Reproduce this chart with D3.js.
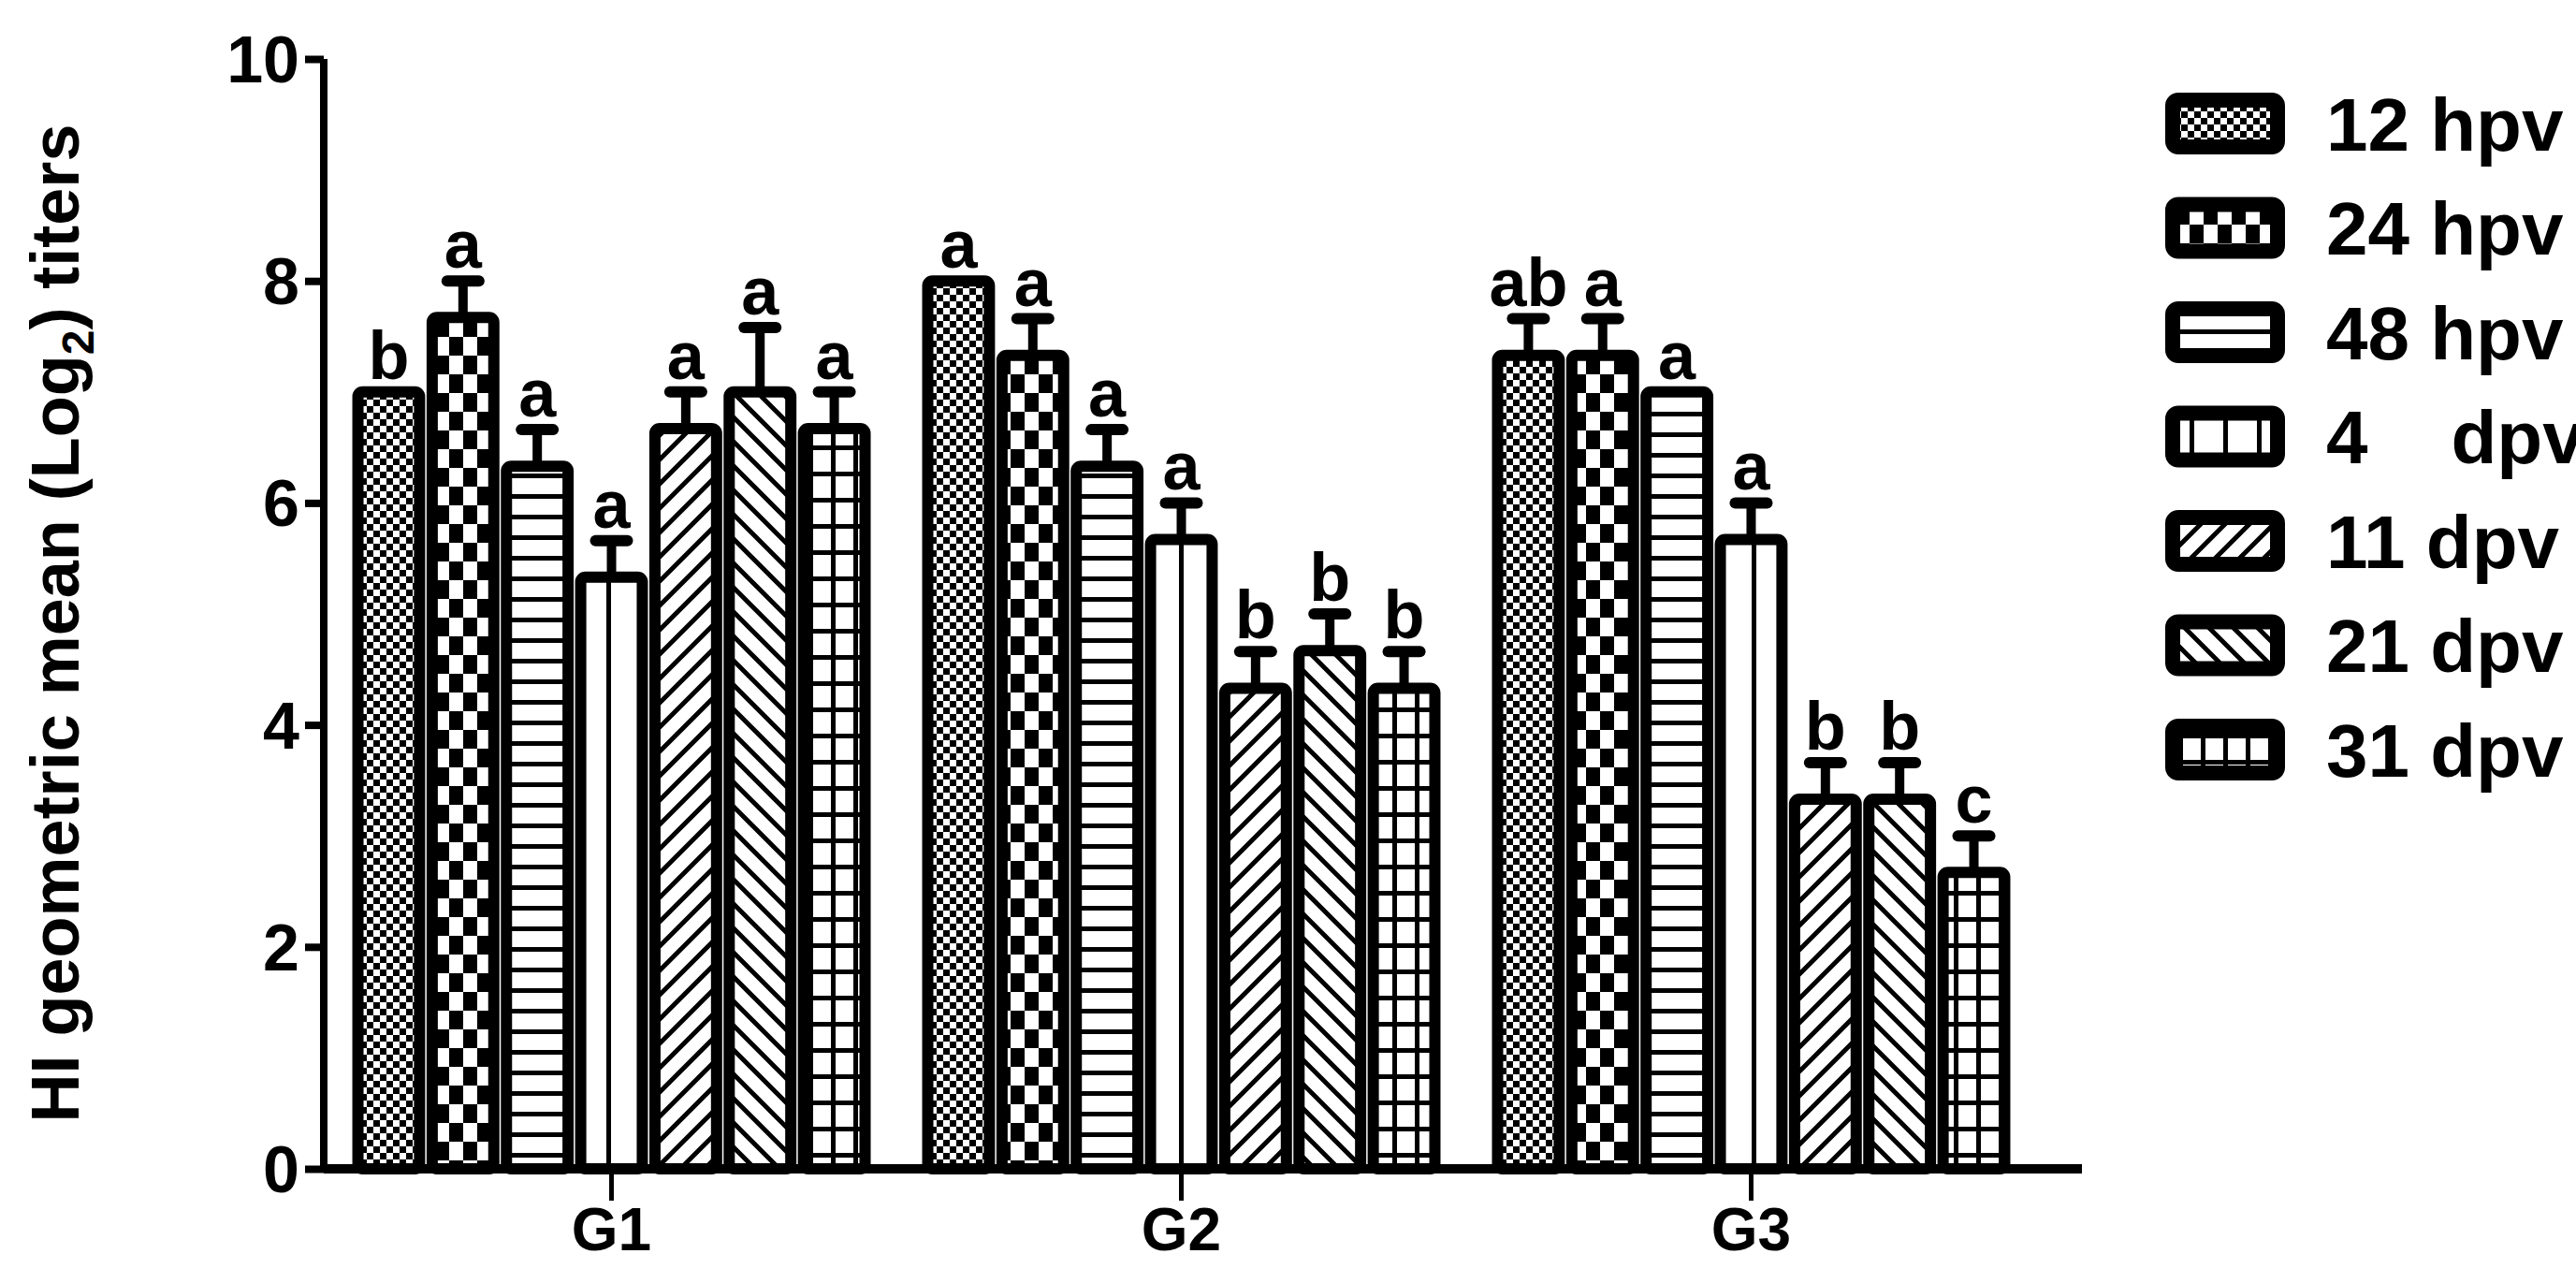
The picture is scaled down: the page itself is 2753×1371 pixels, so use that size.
<!DOCTYPE html>
<html><head><meta charset="utf-8">
<script src="https://cdn.jsdelivr.net/npm/d3@7"></script>
<style>body{margin:0;background:#fff}text{font-family:"Liberation Sans",Arial,sans-serif;font-weight:bold}</style>
</head><body><svg id="chart"></svg>
<script>
const groups = ['G1', 'G2', 'G3'];
const series = ['12 hpv', '24 hpv', '48 hpv', '4    dpv', '11 dpv', '21 dpv', '31 dpv'];
const means = [
  [7, 7.67, 6.33, 5.33, 6.67, 7, 6.67],
  [8, 7.33, 6.33, 5.67, 4.33, 4.67, 4.33],
  [7.33, 7.33, 7, 5.67, 3.33, 3.33, 2.67]
];
const errs = [
  [0, 0.33, 0.33, 0.33, 0.33, 0.58, 0.33],
  [0, 0.33, 0.33, 0.33, 0.33, 0.33, 0.33],
  [0.33, 0.33, 0, 0.33, 0.33, 0.33, 0.33]
];
const letters = [
  ['b', 'a', 'a', 'a', 'a', 'a', 'a'],
  ['a', 'a', 'a', 'a', 'b', 'b', 'b'],
  ['ab', 'a', 'a', 'a', 'b', 'b', 'c']
];
const yTicks = [0, 2, 4, 6, 8, 10];

const W = 2753, H = 1371;
const svg = d3.select('#chart').attr('width', W).attr('height', H);
const defs = svg.append('defs');

// patterns
function pat(id, w, h, draw) {
  const p = defs.append('pattern').attr('id', id).attr('patternUnits', 'userSpaceOnUse')
    .attr('width', w).attr('height', h);
  p.append('rect').attr('width', w).attr('height', h).attr('fill', '#fff');
  draw(p);
}
pat('p0', 14, 14, p => { p.append('rect').attr('width', 7).attr('height', 7); p.append('rect').attr('x', 7).attr('y', 7).attr('width', 7).attr('height', 7); });
pat('p1', 30, 40, p => { p.append('rect').attr('width', 15).attr('height', 20); p.append('rect').attr('x', 15).attr('y', 20).attr('width', 15).attr('height', 20); });
pat('p2', 20, 22, p => p.append('rect').attr('width', 20).attr('height', 5));
pat('p3', 36, 20, p => p.append('rect').attr('width', 5).attr('height', 20));
pat('p4', 26, 26, p => p.append('path').attr('d', 'M-5,31L31,-5M-18,18L18,-18M8,44L44,8').attr('stroke', '#000').attr('stroke-width', 5));
pat('p5', 26, 26, p => p.append('path').attr('d', 'M-5,-5L31,31M-18,8L18,44M8,-18L44,18').attr('stroke', '#000').attr('stroke-width', 5));
pat('p6', 24, 28, p => { p.append('rect').attr('width', 24).attr('height', 5); p.append('rect').attr('width', 5).attr('height', 28); });

const margin = {left: 346, top: 63, right: 528, bottom: 122};
const y = d3.scaleLinear().domain([0, 10]).range([H - margin.bottom, margin.top]);
const x0 = d3.scaleBand().domain(groups).range([margin.left + 0, margin.left + 1833]).paddingInner(0.11).paddingOuter(0.06);
const x1 = d3.scaleBand().domain(d3.range(7)).range([0, x0.bandwidth()]).paddingInner(0.17);

const g = svg.append('g');
groups.forEach((gr, gi) => {
  means[gi].forEach((v, si) => {
    const bx = x0(gr) + x1(si), bw = x1.bandwidth(), cx = bx + bw / 2;
    const top = y(v + errs[gi][si]);
    if (errs[gi][si] > 0) {
      g.append('line').attr('x1', cx).attr('x2', cx).attr('y1', y(v)).attr('y2', top)
        .attr('stroke', '#000').attr('stroke-width', 10);
      g.append('line').attr('x1', cx - 17).attr('x2', cx + 17).attr('y1', top).attr('y2', top)
        .attr('stroke', '#000').attr('stroke-width', 12).attr('stroke-linecap', 'round');
    }
    g.append('rect').attr('x', bx).attr('y', y(v)).attr('width', bw).attr('height', y(0) - y(v))
      .attr('rx', 5).attr('fill', `url(#p${si})`).attr('stroke', '#000').attr('stroke-width', 12);
    g.append('text').attr('x', cx).attr('y', top - 14).attr('text-anchor', 'middle')
      .attr('font-size', 72).text(letters[gi][si]);
  });
});

// axes
const yAxis = svg.append('g').attr('transform', `translate(${margin.left},0)`)
  .call(d3.axisLeft(y).tickValues(yTicks).tickSize(20).tickPadding(6));
yAxis.select('.domain').attr('stroke-width', 8).attr('d', `M0,${y(10)}V${y(0)}`);
yAxis.selectAll('.tick line').attr('stroke-width', 8);
yAxis.selectAll('.tick text').attr('font-size', 70).attr('font-family', '"Liberation Sans Narrow","Liberation Sans",sans-serif').attr('dy', '0.35em');

const xAxis = svg.append('g').attr('transform', `translate(0,${y(0)})`)
  .call(d3.axisBottom(x0).tickSize(34).tickPadding(8));
xAxis.select('.domain').attr('stroke-width', 10).attr('d', `M${margin.left},0H${W - margin.right}`);
xAxis.selectAll('.tick line').attr('stroke-width', 5);
xAxis.selectAll('.tick text').attr('font-size', 64);

svg.append('text').attr('transform', `translate(84,${(y(0) + y(10)) / 2 + 10}) rotate(-90)`)
  .attr('text-anchor', 'middle').attr('font-size', 72)
  .html('HI geometric mean (Log<tspan font-size="48" dy="16">2</tspan><tspan dy="-16">) titers</tspan>');

// legend
const leg = svg.append('g');
series.forEach((s, i) => {
  const ly = 132 + i * 111.5;
  leg.append('rect').attr('x', 2322).attr('y', ly - 25).attr('width', 112).attr('height', 50).attr('rx', 6)
    .attr('fill', `url(#p${i})`).attr('stroke', '#000').attr('stroke-width', 16);
  leg.append('text').attr('x', 2486).attr('y', ly).attr('dy', '0.36em').attr('font-size', 80)
    .attr('xml:space', 'preserve').style('white-space', 'pre').text(s);
});
</script></body></html>
